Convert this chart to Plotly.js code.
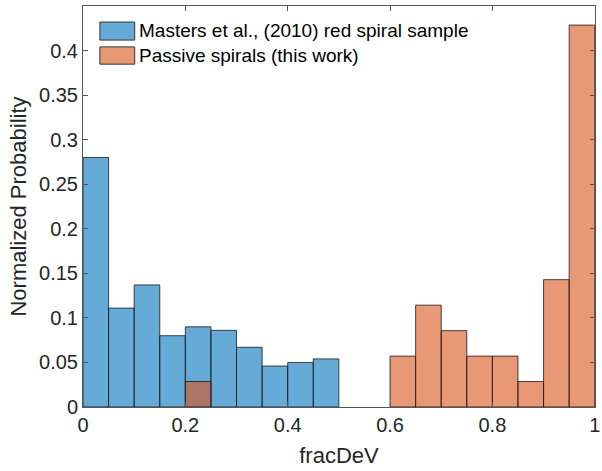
<!DOCTYPE html>
<html>
<head>
<meta charset="utf-8">
<script src="https://cdn.plot.ly/plotly-3.0.1.min.js"></script>
<style>html,body{margin:0;padding:0;background:#fff}#chart{width:602px;height:471px}</style>
</head>
<body>
<div id="chart"></div>
<script>
// Data
const binWidth = 0.05;
const mastersBinStarts = [0, 0.05, 0.10, 0.15, 0.20, 0.25, 0.30, 0.35, 0.40, 0.45];
const mastersProb = [0.280, 0.111, 0.137, 0.080, 0.090, 0.086, 0.067, 0.046, 0.050, 0.054];
const passiveBinStarts = [0.20, 0.60, 0.65, 0.70, 0.75, 0.80, 0.85, 0.90, 0.95];
const passiveProb = [0.0286, 0.0571, 0.1143, 0.0857, 0.0571, 0.0571, 0.0286, 0.1429, 0.4286];
const legendLabels = ["Masters et al., (2010) red spiral sample", "Passive spirals (this work)"];
const xTicks = [0, 0.2, 0.4, 0.6, 0.8, 1];
const yTicks = [0, 0.05, 0.1, 0.15, 0.2, 0.25, 0.3, 0.35, 0.4];

const blueFill = 'rgba(0,114,189,0.6)';
const orangeFill = 'rgba(217,83,25,0.6)';
const font = 'Liberation Sans, Arial, Helvetica, sans-serif';

const centers = a => a.map(s => s + binWidth / 2);

const traces = [
  {type: 'bar', x: centers(mastersBinStarts), y: mastersProb, width: binWidth,
   marker: {color: blueFill, line: {color: '#1a1a1a', width: 0.8}}, name: legendLabels[0], showlegend: false},
  {type: 'bar', x: centers(passiveBinStarts), y: passiveProb, width: binWidth,
   marker: {color: orangeFill, line: {color: '#1a1a1a', width: 0.8}}, name: legendLabels[1], showlegend: false}
];

const axisCommon = {
  showline: true, linecolor: '#555', linewidth: 1, mirror: 'ticks',
  ticks: 'inside', ticklen: 5, tickcolor: '#555', showgrid: false, zeroline: false,
  ticklabeloverflow: 'allow',
  tickfont: {family: font, size: 20, color: '#262626'}
};

const layout = {
  width: 602, height: 471,
  margin: {l: 83, r: 7, t: 6, b: 64},
  paper_bgcolor: '#fff', plot_bgcolor: '#fff',
  barmode: 'overlay', bargap: 0,
  xaxis: Object.assign({}, axisCommon, {
    range: [0, 1.0005], tickvals: xTicks, ticktext: xTicks.map(String),
    title: {text: 'fracDeV', font: {family: font, size: 22, color: '#262626'}, standoff: 12}
  }),
  yaxis: Object.assign({}, axisCommon, {
    range: [0, 0.45], tickvals: yTicks, ticktext: yTicks.map(String),
    title: {text: 'Normalized Probability', font: {family: font, size: 22, color: '#262626'}, standoff: 6}
  }),
  shapes: [
    {type: 'rect', xref: 'paper', yref: 'paper', x0: 0.033, x1: 0.101, y0: 0.915, y1: 0.96,
     fillcolor: blueFill, line: {color: '#333', width: 1}},
    {type: 'rect', xref: 'paper', yref: 'paper', x0: 0.033, x1: 0.101, y0: 0.855, y1: 0.898,
     fillcolor: orangeFill, line: {color: '#333', width: 1}}
  ],
  annotations: [
    {xref: 'paper', yref: 'paper', x: 0.106, y: 0.938, xanchor: 'left', yanchor: 'middle', showarrow: false,
     text: legendLabels[0], font: {family: font, size: 19, color: '#000'}},
    {xref: 'paper', yref: 'paper', x: 0.106, y: 0.877, xanchor: 'left', yanchor: 'middle', showarrow: false,
     text: legendLabels[1], font: {family: font, size: 19, color: '#000'}}
  ]
};

Plotly.newPlot('chart', traces, layout, {displayModeBar: false, staticPlot: true});
</script>
</body>
</html>
